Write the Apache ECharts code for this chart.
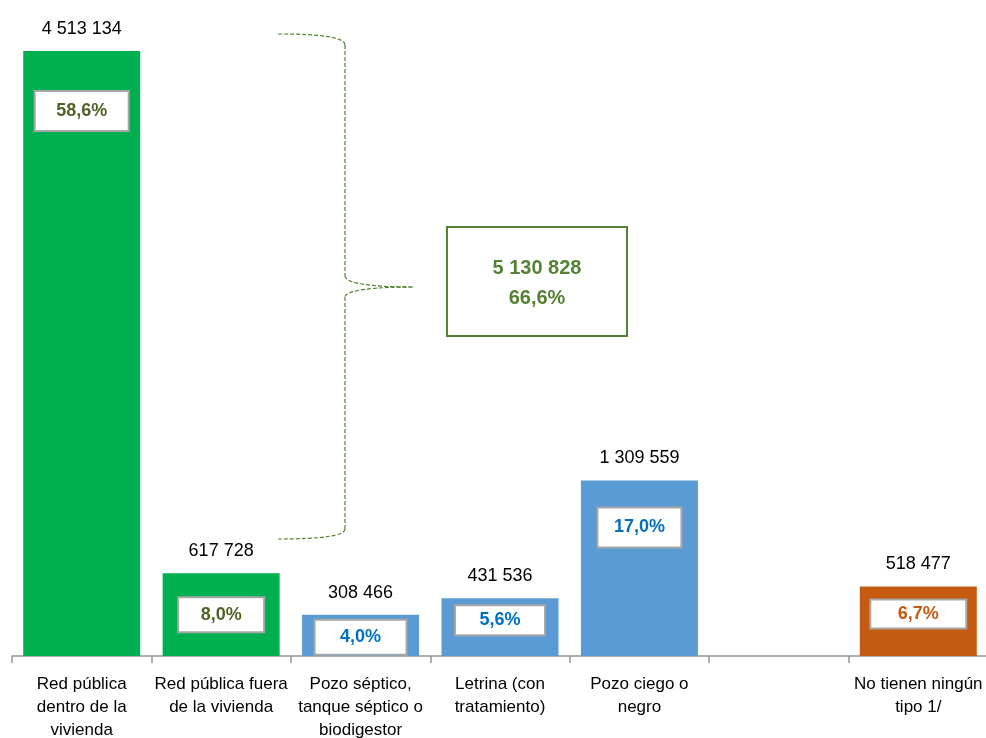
<!DOCTYPE html>
<html>
<head>
<meta charset="utf-8">
<script src="https://cdn.jsdelivr.net/npm/echarts@6/dist/echarts.min.js"></script>
<style>
html,body{margin:0;padding:0;background:#fff;}
#chart{width:986px;height:738px;}
</style>
</head>
<body>
<div id="chart"></div>
<script>
var categories = ['Red pública\ndentro de la\nvivienda', 'Red pública fuera\nde la vivienda', 'Pozo séptico,\ntanque séptico o\nbiodigestor', 'Letrina (con\ntratamiento)', 'Pozo ciego o\nnegro', '', 'No tienen ningún\ntipo 1/'];
var households = [4513134, 617728, 308466, 431536, 1309559, null, 518477];
var percentLabels = ['58,6%', '8,0%', '4,0%', '5,6%', '17,0%', '', '6,7%'];
var groupTotalLabel = '5 130 828';
var groupPercentLabel = '66,6%';

// styling (kept separate from data)
var barColors = ['#00b050', '#00b050', '#5b9bd5', '#5b9bd5', '#5b9bd5', '#5b9bd5', '#c55a11'];
var pctColors = ['#4f6228', '#4f6228', '#0070c0', '#0070c0', '#0070c0', '#0070c0', '#c55a11'];
var pctBoxOffset = [41, 25, 6, 8, 28, 0, 14];
var pctBoxHeight = [38, 33, 33, 28, 38, 0, 27];
var pctBoxWidth = [92, 84, 90, 88, 82, 0, 94];

var FONT = "'Liberation Sans Narrow', 'Arial Narrow', 'Liberation Sans', sans-serif";

function fmt(v) {
  return String(v).replace(/\B(?=(\d{3})+(?!\d))/g, ' ');
}

var chart = echarts.init(document.getElementById('chart'));

var mainData = households.map(function (v, i) {
  return { value: v, itemStyle: { color: barColors[i] } };
});
var pctData = households.map(function (v, i) {
  return {
    value: v,
    label: {
      show: v != null,
      formatter: percentLabels[i],
      distance: pctBoxOffset[i],
      color: pctColors[i],
      width: pctBoxWidth[i],
      height: pctBoxHeight[i],
      lineHeight: pctBoxHeight[i]
    }
  };
});

chart.setOption({
  animation: false,
  grid: { left: 12, width: 976, top: 51, bottom: 82, containLabel: false, outerBoundsMode: 'none' },
  xAxis: {
    type: 'category',
    data: categories,
    boundaryGap: true,
    axisLine: { show: true, lineStyle: { color: '#969696', width: 1.5 } },
    axisTick: { show: true, length: 7, interval: 0, lineStyle: { color: '#969696', width: 1.5 } },
    axisLabel: { interval: 0, fontFamily: FONT, fontSize: 17, lineHeight: 23, color: '#000', margin: 17 }
  },
  yAxis: {
    type: 'value', min: 0, max: 4513134, show: false,
    splitLine: { show: false }
  },
  series: [
    {
      type: 'bar',
      data: mainData,
      barWidth: 117,
      label: {
        show: true, position: 'top', distance: 13,
        formatter: function (p) { return p.value == null ? '' : fmt(p.value); },
        fontFamily: FONT, fontSize: 18, color: '#000'
      }
    },
    {
      type: 'bar',
      data: pctData,
      barWidth: 117,
      barGap: '-100%',
      itemStyle: { color: 'rgba(0,0,0,0)' },
      silent: true,
      label: {
        show: true, position: 'insideTop',
        fontFamily: FONT, fontSize: 18, fontWeight: 'bold',
        backgroundColor: '#fff', borderColor: '#a6a6a6', borderWidth: 2,
        align: 'center'
      }
    }
  ],
  graphic: [
    { type: 'bezierCurve', shape: { x1: 278, y1: 34, cpx1: 320, cpy1: 34, cpx2: 345, cpy2: 37, x2: 345, y2: 45 },
      style: { stroke: '#548235', lineWidth: 1.2, lineDash: [4, 2], fill: null } },
    { type: 'line', shape: { x1: 345, y1: 45, x2: 345, y2: 276 },
      style: { stroke: '#548235', lineWidth: 1.2, lineDash: [4, 2] } },
    { type: 'bezierCurve', shape: { x1: 345, y1: 276, cpx1: 345, cpy1: 284, cpx2: 375, cpy2: 287, x2: 413, y2: 287 },
      style: { stroke: '#548235', lineWidth: 1.2, lineDash: [4, 2], fill: null } },
    { type: 'bezierCurve', shape: { x1: 413, y1: 287, cpx1: 375, cpy1: 287, cpx2: 345, cpy2: 290, x2: 345, y2: 297 },
      style: { stroke: '#548235', lineWidth: 1.2, lineDash: [4, 2], fill: null } },
    { type: 'line', shape: { x1: 345, y1: 297, x2: 345, y2: 529 },
      style: { stroke: '#548235', lineWidth: 1.2, lineDash: [4, 2] } },
    { type: 'bezierCurve', shape: { x1: 345, y1: 529, cpx1: 345, cpy1: 536, cpx2: 320, cpy2: 539, x2: 278, y2: 539 },
      style: { stroke: '#548235', lineWidth: 1.2, lineDash: [4, 2], fill: null } },
    { type: 'rect', shape: { x: 447, y: 227, width: 180, height: 109 },
      style: { fill: '#fff', stroke: '#548235', lineWidth: 2 } },
    { type: 'text', x: 537, y: 283,
      style: { text: groupTotalLabel + '\n' + groupPercentLabel, fill: '#548235',
        font: "bold 20px " + FONT, textAlign: 'center', textVerticalAlign: 'middle', lineHeight: 30 } }
  ]
});
</script>
</body>
</html>
